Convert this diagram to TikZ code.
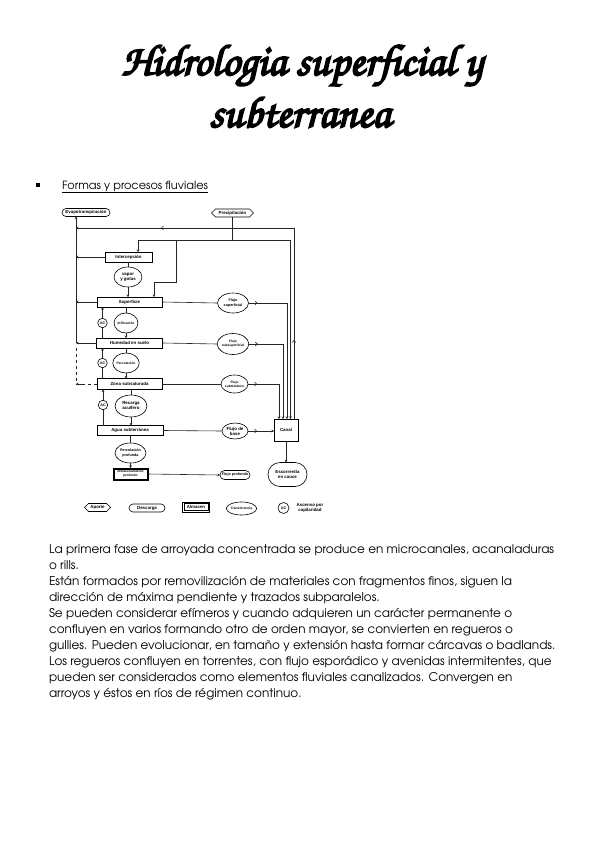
\documentclass[tikz,border=0pt]{standalone}
\usepackage{fontspec}
\setmainfont{TeX Gyre Adventor}
\newfontfamily\titlefont{TeX Gyre Chorus}[FakeBold=4]
\newfontfamily\diafont{Liberation Sans}
\usetikzlibrary{arrows.meta,shapes.geometric,shapes.symbols,shapes.misc,decorations.markings}
\tikzset{
  every node/.style={inner sep=0pt, outer sep=0pt},
  dfont/.style={font=\diafont\bfseries\fontsize{4.4}{5}\selectfont},
  sfont/.style={font=\diafont\bfseries\fontsize{3.7}{4.2}\selectfont},
  tfont/.style={font=\diafont\bfseries\fontsize{3.3}{3.8}\selectfont},
  store/.style={draw, line width=0.6pt, rectangle, dfont, align=center},
  trans/.style={draw, line width=0.6pt, ellipse, sfont, align=center},
  descarga/.style={draw, line width=0.6pt, rounded rectangle, dfont, align=center},
  aporte/.style={draw, line width=0.6pt, signal, signal to=west and east, dfont},
  acnode/.style={draw, line width=0.6pt, circle, sfont, minimum size=9.5pt},
  conn/.style={line width=0.6pt, black!85},
  arr/.style={conn, -{Stealth[length=2.5pt,width=2.5pt]}},
  midat/.style={postaction={decorate, decoration={markings, mark=at position #1 with {\arrow{Straight Barb[length=2pt,width=3.8pt]}}}}},
  body/.style={font=\fontsize{12}{16}\selectfont, anchor=base west},
}
\begin{document}
\begin{tikzpicture}[x=1pt,y=-1pt]
\useasboundingbox (0,0) rectangle (599,848);
\fill[white] (0,0) rectangle (599,848);

% title
\node[font=\titlefont\fontsize{44}{44}\selectfont, anchor=base] (t1) at (302,75) {Hidrologia superficial y};
\node[font=\titlefont\fontsize{44}{44}\selectfont, anchor=base] (t2) at (300,127) {subterranea};

% heading
\node[fill=black, minimum size=4pt] (bul) at (38,185) {};
\node[font=\fontsize{11.3}{13}\selectfont, anchor=base west] (h1) at (62,189) {\underline{Formas y procesos fluviales}};

\coordinate (Lx) at (76,0);

% diagram nodes
\node[descarga, minimum width=48pt, minimum height=8pt] (evap) at (86,212.5) {Evapotranspiración};
\node[aporte, minimum width=42pt, minimum height=8pt] (precip) at (232.5,213) {Precipitación};
\node[store, minimum width=47pt, minimum height=10pt] (inter) at (128.5,257) {Intercepción};
\node[trans, dfont, minimum width=28pt, minimum height=20pt] (vapor) at (128,277) {vapor\\y gotas};
\node[store, minimum width=65pt, minimum height=10pt] (sup) at (129.5,302) {Superficie};
\node[trans, minimum width=31pt, minimum height=20pt] (fsup) at (233,303) {Flujo\\superficial};
\node[trans, tfont, minimum width=18pt, minimum height=20pt] (inf) at (126,323) {Infiltración};
\node[acnode] (ac1) at (102.5,323) {AC};
\node[store, minimum width=66pt, minimum height=10pt] (hum) at (129.5,343) {Humedad en suelo};
\node[trans, tfont, minimum width=30pt, minimum height=21pt] (fsub) at (233,344) {Flujo\\subsuperficial};
\node[trans, tfont, minimum width=18pt, minimum height=20pt] (perc) at (126,363) {Percolación};
\node[acnode] (ac2) at (102.5,363) {AC};
\node[store, minimum width=65pt, minimum height=11pt] (zona) at (129.5,384) {Zona subsaturada};
\node[trans, tfont, minimum width=27pt, minimum height=18pt] (fsubt) at (234.5,384) {Flujo\\subterráneo};
\node[trans, dfont, minimum width=32pt, minimum height=22pt] (rec) at (131,406) {Recarga\\acuífero};
\node[acnode] (ac3) at (103,405) {AC};
\node[store, minimum width=66pt, minimum height=10pt] (agua) at (130,430.5) {Agua subterránea};
\node[trans, dfont, minimum width=26pt, minimum height=16pt] (fbase) at (235,431) {Flujo de\\base};
\node[trans, minimum width=31pt, minimum height=20pt] (pprof) at (130.5,453) {Percolación\\profunda};
\node[store, tfont, line width=0.4pt, minimum width=35pt, minimum height=12pt] (alm) at (130.5,474) {Almacenamiento\\profundo};
\draw[line width=0.3pt] ([shift={(1.3pt,-1.3pt)}]alm.north west) rectangle ([shift={(-1.3pt,1.3pt)}]alm.south east);
\node[descarga, sfont, minimum width=30pt, minimum height=9pt] (fprof) at (235,475) {Flujo profundo};
\node[store, minimum width=24pt, minimum height=22pt] (canal) at (286,430) {Canal};
\node[descarga, dfont, minimum width=39pt, minimum height=24pt] (esc) at (287.5,474.5) {Escorrentía\\en cauce};

% legend
\node[aporte, minimum width=26pt, minimum height=8pt] (lap) at (97.5,507.5) {Aporte};
\node[descarga, minimum width=36pt, minimum height=8pt] (lde) at (147,508) {Descarga};
\node[store, line width=0.4pt, minimum width=27pt, minimum height=9.5pt] (lal) at (196,507) {Almacen};
\draw[line width=0.3pt] ([shift={(1.3pt,-1.3pt)}]lal.north west) rectangle ([shift={(-1.3pt,1.3pt)}]lal.south east);
\node[trans, tfont, minimum width=27pt, minimum height=13pt] (ltr) at (241.5,508.5) {Transferencia};
\node[acnode, minimum size=11pt] (lac) at (283.5,508) {AC};
\node[dfont, align=center] (lacx) at (310,508) {Ascenso por\\capilaridad};

% left collector line to evapotranspiration
\draw[arr] (hum.west -| Lx) -- (evap.south -| Lx);
\draw[arr] (inter.west) -- (inter.west -| Lx);
\draw[arr] (sup.west) -- (sup.west -| Lx);
\draw[arr] (hum.west) -- (hum.west -| Lx);
\draw[conn, dashed] (zona.west) -- (zona.west -| Lx) -- ([yshift=-3pt]hum.west -| Lx);
\draw[arr] ([xshift=6pt]zona.west -| Lx) -- (zona.west -| Lx);

% evaporation from channel
\coordinate (E1) at (294,228);
\draw[arr, postaction={decorate, decoration={markings,
   mark=at position 79pt with {\arrow{Straight Barb[length=2pt,width=3.8pt]}},
   mark=at position 324pt with {\arrow{Straight Barb[length=2pt,width=3.8pt]}}}}]
   (canal.north -| E1) -- (E1) -- (E1 -| Lx);

% precipitation
\coordinate (P1) at (232.5,240);
\coordinate (P2) at (176,282);
\draw[conn] (precip.south) -- (P1);
\draw[arr] (P1) -| ([xshift=4.5pt]canal.north);
\draw[arr] (P1) -| ([xshift=9.5pt]inter.north);
\draw[arr] (P1 -| P2) -- (P2) -| ([xshift=24.5pt]sup.north);

% interception chain
\draw[conn] (inter.south -| vapor) -- (vapor.north);
\draw[arr] (vapor.south) -- (sup.north -| vapor);

% vertical transfers
\draw[conn] (sup.south -| inf) -- (inf.north);
\draw[arr] (inf.south) -- (hum.north -| inf);
\draw[conn] (hum.south -| perc) -- (perc.north);
\draw[arr] (perc.south) -- (zona.north -| perc);
\draw[conn] (zona.south -| rec) -- (rec.north);
\draw[arr] (rec.south) -- (agua.north -| rec);
\draw[conn] (agua.south -| pprof) -- (pprof.north);
\draw[arr] (pprof.south) -- (alm.north);

% capillary rise
\draw[conn] (hum.north -| ac1) -- (ac1.south);
\draw[arr] (ac1.north) -- (sup.south -| ac1);
\draw[conn] (zona.north -| ac2) -- (ac2.south);
\draw[arr] (ac2.north) -- (hum.south -| ac2);
\draw[conn] (agua.north -| ac3) -- (ac3.south);
\draw[arr] (ac3.north) -- (zona.south -| ac3);

% lateral flows
\draw[conn] (sup.east) -- (fsup.west);
\draw[arr, midat=9pt] (fsup.east) -| ([xshift=1pt]canal.north);
\draw[conn] (hum.east) -- (fsub.west);
\draw[arr, midat=9pt] (fsub.east) -| ([xshift=-3pt]canal.north);
\draw[conn] (zona.east) -- (fsubt.west);
\draw[arr, midat=9pt] (fsubt.east) -| ([xshift=-7pt]canal.north);
\draw[conn] (agua.east) -- (fbase.west);
\draw[arr, midat=9pt] (fbase.east) -- (canal.west |- fbase.east);
\draw[arr] (alm.east) -- (fprof.west);
\draw[arr] (canal.south) -- (esc.north -| canal);

% body text
\node[body] (b1) at (49,553) {La primera fase de arroyada concentrada se produce en microcanales, acanaladuras};
\node[body] (b2) at (49,569) {o rills.};
\node[body] (b3) at (49,585) {Están formados por removilización de materiales con fragmentos finos, siguen la};
\node[body] (b4) at (49,601) {dirección de máxima pendiente y trazados subparalelos.};
\node[body] (b5) at (49,617) {Se pueden considerar efímeros y cuando adquieren un carácter permanente o};
\node[body] (b6) at (49,633) {confluyen en varios formando otro de orden mayor, se convierten en regueros o};
\node[body] (b7) at (49,649) {gullies. Pueden evolucionar, en tamaño y extensión hasta formar cárcavas o badlands.};
\node[body] (b8) at (49,665) {Los regueros confluyen en torrentes, con flujo esporádico y avenidas intermitentes, que};
\node[body] (b9) at (49,681) {pueden ser considerados como elementos fluviales canalizados. Convergen en};
\node[body] (b10) at (49,697) {arroyos y éstos en ríos de régimen continuo.};
\end{tikzpicture}
\end{document}
